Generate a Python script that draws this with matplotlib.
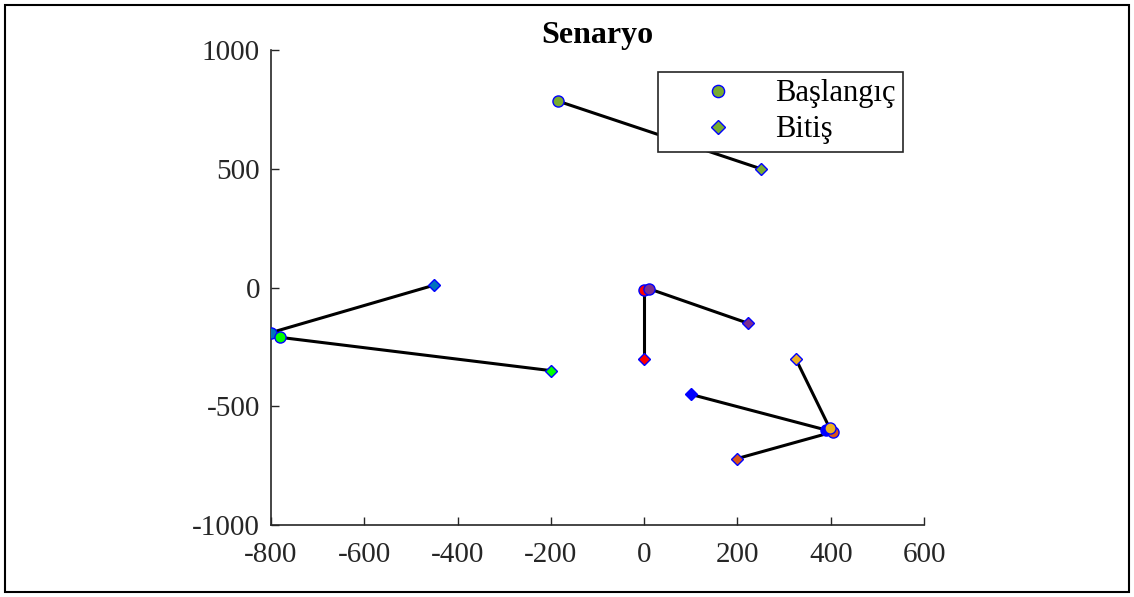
import matplotlib.pyplot as plt
from matplotlib.patches import Rectangle

plt.rcParams['font.family'] = ['Liberation Serif', 'DejaVu Serif']
plt.rcParams['axes.unicode_minus'] = False
plt.rcParams['xtick.direction'] = 'in'
plt.rcParams['ytick.direction'] = 'in'

# start / end points of each agent
start_x = [-185, -800, -780, 0, 10, 390, 405, 398]
start_y = [785, -190, -210, -10, -5, -600, -608, -593]
end_x = [250, -450, -200, 0, 222, 100, 200, 325]
end_y = [500, 10, -350, -300, -150, -450, -720, -300]
colors = [(0.47, 0.67, 0.19), (0.0, 0.45, 0.74), (0.0, 1.0, 0.0), (1.0, 0.0, 0.0),
          (0.49, 0.18, 0.56), (0.0, 0.0, 1.0), (0.85, 0.33, 0.10), (0.93, 0.69, 0.13)]

fig = plt.figure(figsize=(11.34, 5.97), dpi=100)
ax = fig.add_axes([271 / 1134, 1 - 525 / 597, 653 / 1134, 475 / 597])

for i in range(len(start_x)):
    ax.plot([start_x[i], end_x[i]], [start_y[i], end_y[i]], color='k', lw=2.2, zorder=2)

for i in range(len(start_x)):
    ax.plot(start_x[i], start_y[i], 'o', ms=8, mfc=colors[i], mec='b', mew=1, zorder=3,
            label='Başlangıç' if i == 0 else None)
    ax.plot(end_x[i], end_y[i], 'D', ms=6.5, mfc=colors[i], mec='b', mew=1, zorder=3,
            label='Bitiş' if i == 0 else None)

ax.set_xlim(-800, 600)
ax.set_ylim(-1000, 1000)
ax.set_xticks(range(-800, 601, 200))
ax.set_yticks([-1000, -500, 0, 500, 1000])
ax.spines['top'].set_visible(False)
ax.spines['right'].set_visible(False)
for s in ['left', 'bottom']:
    ax.spines[s].set_color('#262626')
    ax.spines[s].set_linewidth(1.2)
ax.tick_params(axis='both', direction='in', length=6, width=1, labelsize=21,
               colors='#262626')
ax.tick_params(axis='x', pad=12)
ax.tick_params(axis='y', pad=8)
ax.set_title('Senaryo', fontsize=23, fontweight='bold', pad=2)

leg = ax.legend(loc='upper right', bbox_to_anchor=(0.968, 0.954), fontsize=22,
                frameon=True, fancybox=False, framealpha=1, handletextpad=0.14,
                handlelength=3.43, borderpad=0.25, labelspacing=0.22, borderaxespad=0,
                markerscale=1.1)
leg.get_frame().set_edgecolor('#262626')
leg.get_frame().set_linewidth(1.2)
leg.set_zorder(5)

fig.patches.append(Rectangle((5 / 1134, 5 / 597), 1124 / 1134, 587 / 597,
                             transform=fig.transFigure, fill=False, ec='k', lw=1.5))

fig.savefig('out.png', dpi=100)
